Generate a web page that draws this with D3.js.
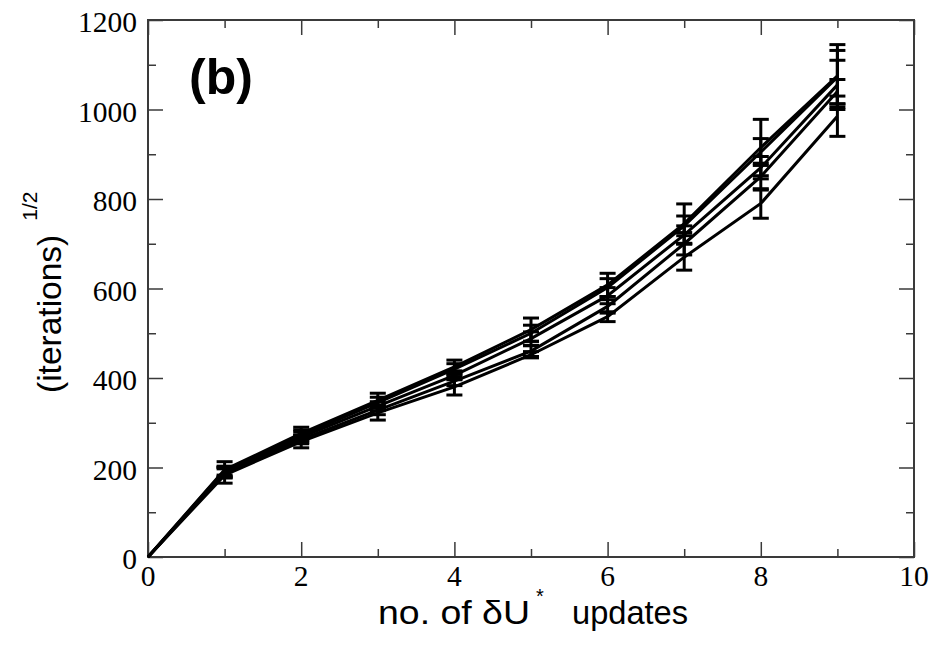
<!DOCTYPE html>
<html>
<head>
<meta charset="utf-8">
<script src="https://cdn.jsdelivr.net/npm/d3@7"></script>
<style>
  html, body { margin: 0; padding: 0; background: #fff; }
  svg { display: block; }
</style>
</head>
<body>
<svg id="chart" width="946" height="646"></svg>
<script>
// Number of δU* updates (x) and sqrt(iterations) for five runs, with error bars
const updates = [0, 1, 2, 3, 4, 5, 6, 7, 8, 9];
const runA = [0, 195, 276, 350, 425, 508, 608, 745, 915, 1075];
const runB = [0, 193, 272, 345, 420, 500, 602, 740, 905, 1072];
const runC = [0, 190, 268, 337, 406, 488, 584, 720, 870, 1055];
const runD = [0, 187, 263, 328, 393, 460, 560, 700, 850, 1040];
const runE = [0, 183, 258, 322, 380, 452, 537, 670, 790, 985];
const errA = [0, 18, 14, 16, 15, 26, 26, 44, 63, 70];
const errB = [0, 10, 12, 12, 12, 18, 20, 22, 30, 60];
const errC = [0, 10, 12, 10, 10, 15, 18, 20, 25, 55];
const errD = [0, 10, 10, 10, 10, 12, 15, 25, 30, 27];
const errE = [0, 18, 14, 16, 18, 7, 11, 29, 33, 45];

const xTicks = [0, 2, 4, 6, 8, 10];
const yTicks = [0, 200, 400, 600, 800, 1000, 1200];

const runs = [
  { v: runA, e: errA },
  { v: runB, e: errB },
  { v: runC, e: errC },
  { v: runD, e: errD },
  { v: runE, e: errE }
];

const svg = d3.select("#chart");
const mLeft = 148, mRight = 914, mTop = 20, mBottom = 557;

const x = d3.scaleLinear().domain([0, 10]).range([mLeft, mRight]);
const y = d3.scaleLinear().domain([0, 1200]).range([mBottom, mTop]);

const frameColor = "#3a3a3a";
const serif = "'Liberation Serif', 'Times New Roman', serif";
const sans = "'Liberation Sans', Arial, Helvetica, sans-serif";

// Inward ticks on all four sides (major + minor)
function tickAxis(axisFn, scale, ticks, len, transform) {
  const g = svg.append("g").attr("transform", transform)
    .call(axisFn(scale).tickValues(ticks).tickSize(len).tickFormat(""));
  g.select(".domain").remove();
  g.selectAll("line").attr("stroke", frameColor).attr("stroke-width", 1.5);
  return g;
}
const xMinor = d3.range(1, 10, 2);
const yMinor = d3.range(100, 1200, 200);
tickAxis(d3.axisTop, x, xTicks, 15, `translate(0,${mBottom})`);
tickAxis(d3.axisTop, x, xMinor, 8, `translate(0,${mBottom})`);
tickAxis(d3.axisBottom, x, xTicks, 15, `translate(0,${mTop})`);
tickAxis(d3.axisBottom, x, xMinor, 8, `translate(0,${mTop})`);
tickAxis(d3.axisRight, y, yTicks, 15, `translate(${mLeft},0)`);
tickAxis(d3.axisRight, y, yMinor, 8, `translate(${mLeft},0)`);
tickAxis(d3.axisLeft, y, yTicks, 15, `translate(${mRight},0)`);
tickAxis(d3.axisLeft, y, yMinor, 8, `translate(${mRight},0)`);

// Frame
svg.append("rect")
  .attr("x", mLeft).attr("y", mTop)
  .attr("width", mRight - mLeft).attr("height", mBottom - mTop)
  .attr("fill", "none").attr("stroke", frameColor).attr("stroke-width", 2);

// Tick labels
svg.append("g").selectAll("text").data(xTicks).join("text")
  .attr("x", d => x(d)).attr("y", mBottom + 29)
  .attr("text-anchor", "middle")
  .attr("font-family", serif).attr("font-size", 29.5)
  .text(d => d);
svg.append("g").selectAll("text").data(yTicks).join("text")
  .attr("x", mLeft - 11).attr("y", d => y(d) + 12)
  .attr("text-anchor", "end")
  .attr("font-family", serif).attr("font-size", 29.5)
  .text(d => d);

// Lines
const line = d3.line().x((d, i) => x(updates[i])).y(d => y(d));
const plot = svg.append("g");
runs.forEach(r => {
  plot.append("path").datum(r.v)
    .attr("d", line)
    .attr("fill", "none").attr("stroke", "#000")
    .attr("stroke-width", 3).attr("stroke-linejoin", "miter");
});

// Error bars
const cap = 8;
runs.forEach(r => {
  const pts = updates.map((u, i) => ({ u, v: r.v[i], e: r.e[i] })).filter(p => p.e > 0);
  const g = plot.append("g").attr("stroke", "#000").attr("stroke-width", 3);
  g.selectAll("line.bar").data(pts).join("line").attr("class", "bar")
    .attr("x1", p => x(p.u)).attr("x2", p => x(p.u))
    .attr("y1", p => y(p.v - p.e)).attr("y2", p => y(p.v + p.e));
  g.selectAll("line.capHi").data(pts).join("line").attr("class", "capHi")
    .attr("x1", p => x(p.u) - cap).attr("x2", p => x(p.u) + cap)
    .attr("y1", p => y(p.v + p.e)).attr("y2", p => y(p.v + p.e));
  g.selectAll("line.capLo").data(pts).join("line").attr("class", "capLo")
    .attr("x1", p => x(p.u) - cap).attr("x2", p => x(p.u) + cap)
    .attr("y1", p => y(p.v - p.e)).attr("y2", p => y(p.v - p.e));
});

// Panel label
svg.append("text")
  .attr("x", 189).attr("y", 94)
  .attr("font-family", sans).attr("font-weight", "bold").attr("font-size", 50)
  .text("(b)");

// X axis title with superscript star
const xt = svg.append("text")
  .attr("y", 624)
  .attr("font-family", sans).attr("font-size", 34);
xt.append("tspan").attr("x", 378)
  .attr("textLength", 152).attr("lengthAdjust", "spacingAndGlyphs").text("no. of δU");
xt.append("tspan").attr("x", 536).attr("dy", -21).attr("font-size", 20).text("*");
xt.append("tspan").attr("x", 572).attr("dy", 21)
  .attr("textLength", 116).attr("lengthAdjust", "spacingAndGlyphs").text("updates");

// Y axis title with superscript 1/2
const yt = svg.append("text")
  .attr("transform", "translate(61,393) rotate(-90)")
  .attr("text-anchor", "start")
  .attr("font-family", sans).attr("font-size", 33.5);
yt.append("tspan").text("(iterations)");
yt.append("tspan").attr("dx", 14).attr("dy", -24).attr("font-size", 21).text("1/2");
</script>
</body>
</html>
